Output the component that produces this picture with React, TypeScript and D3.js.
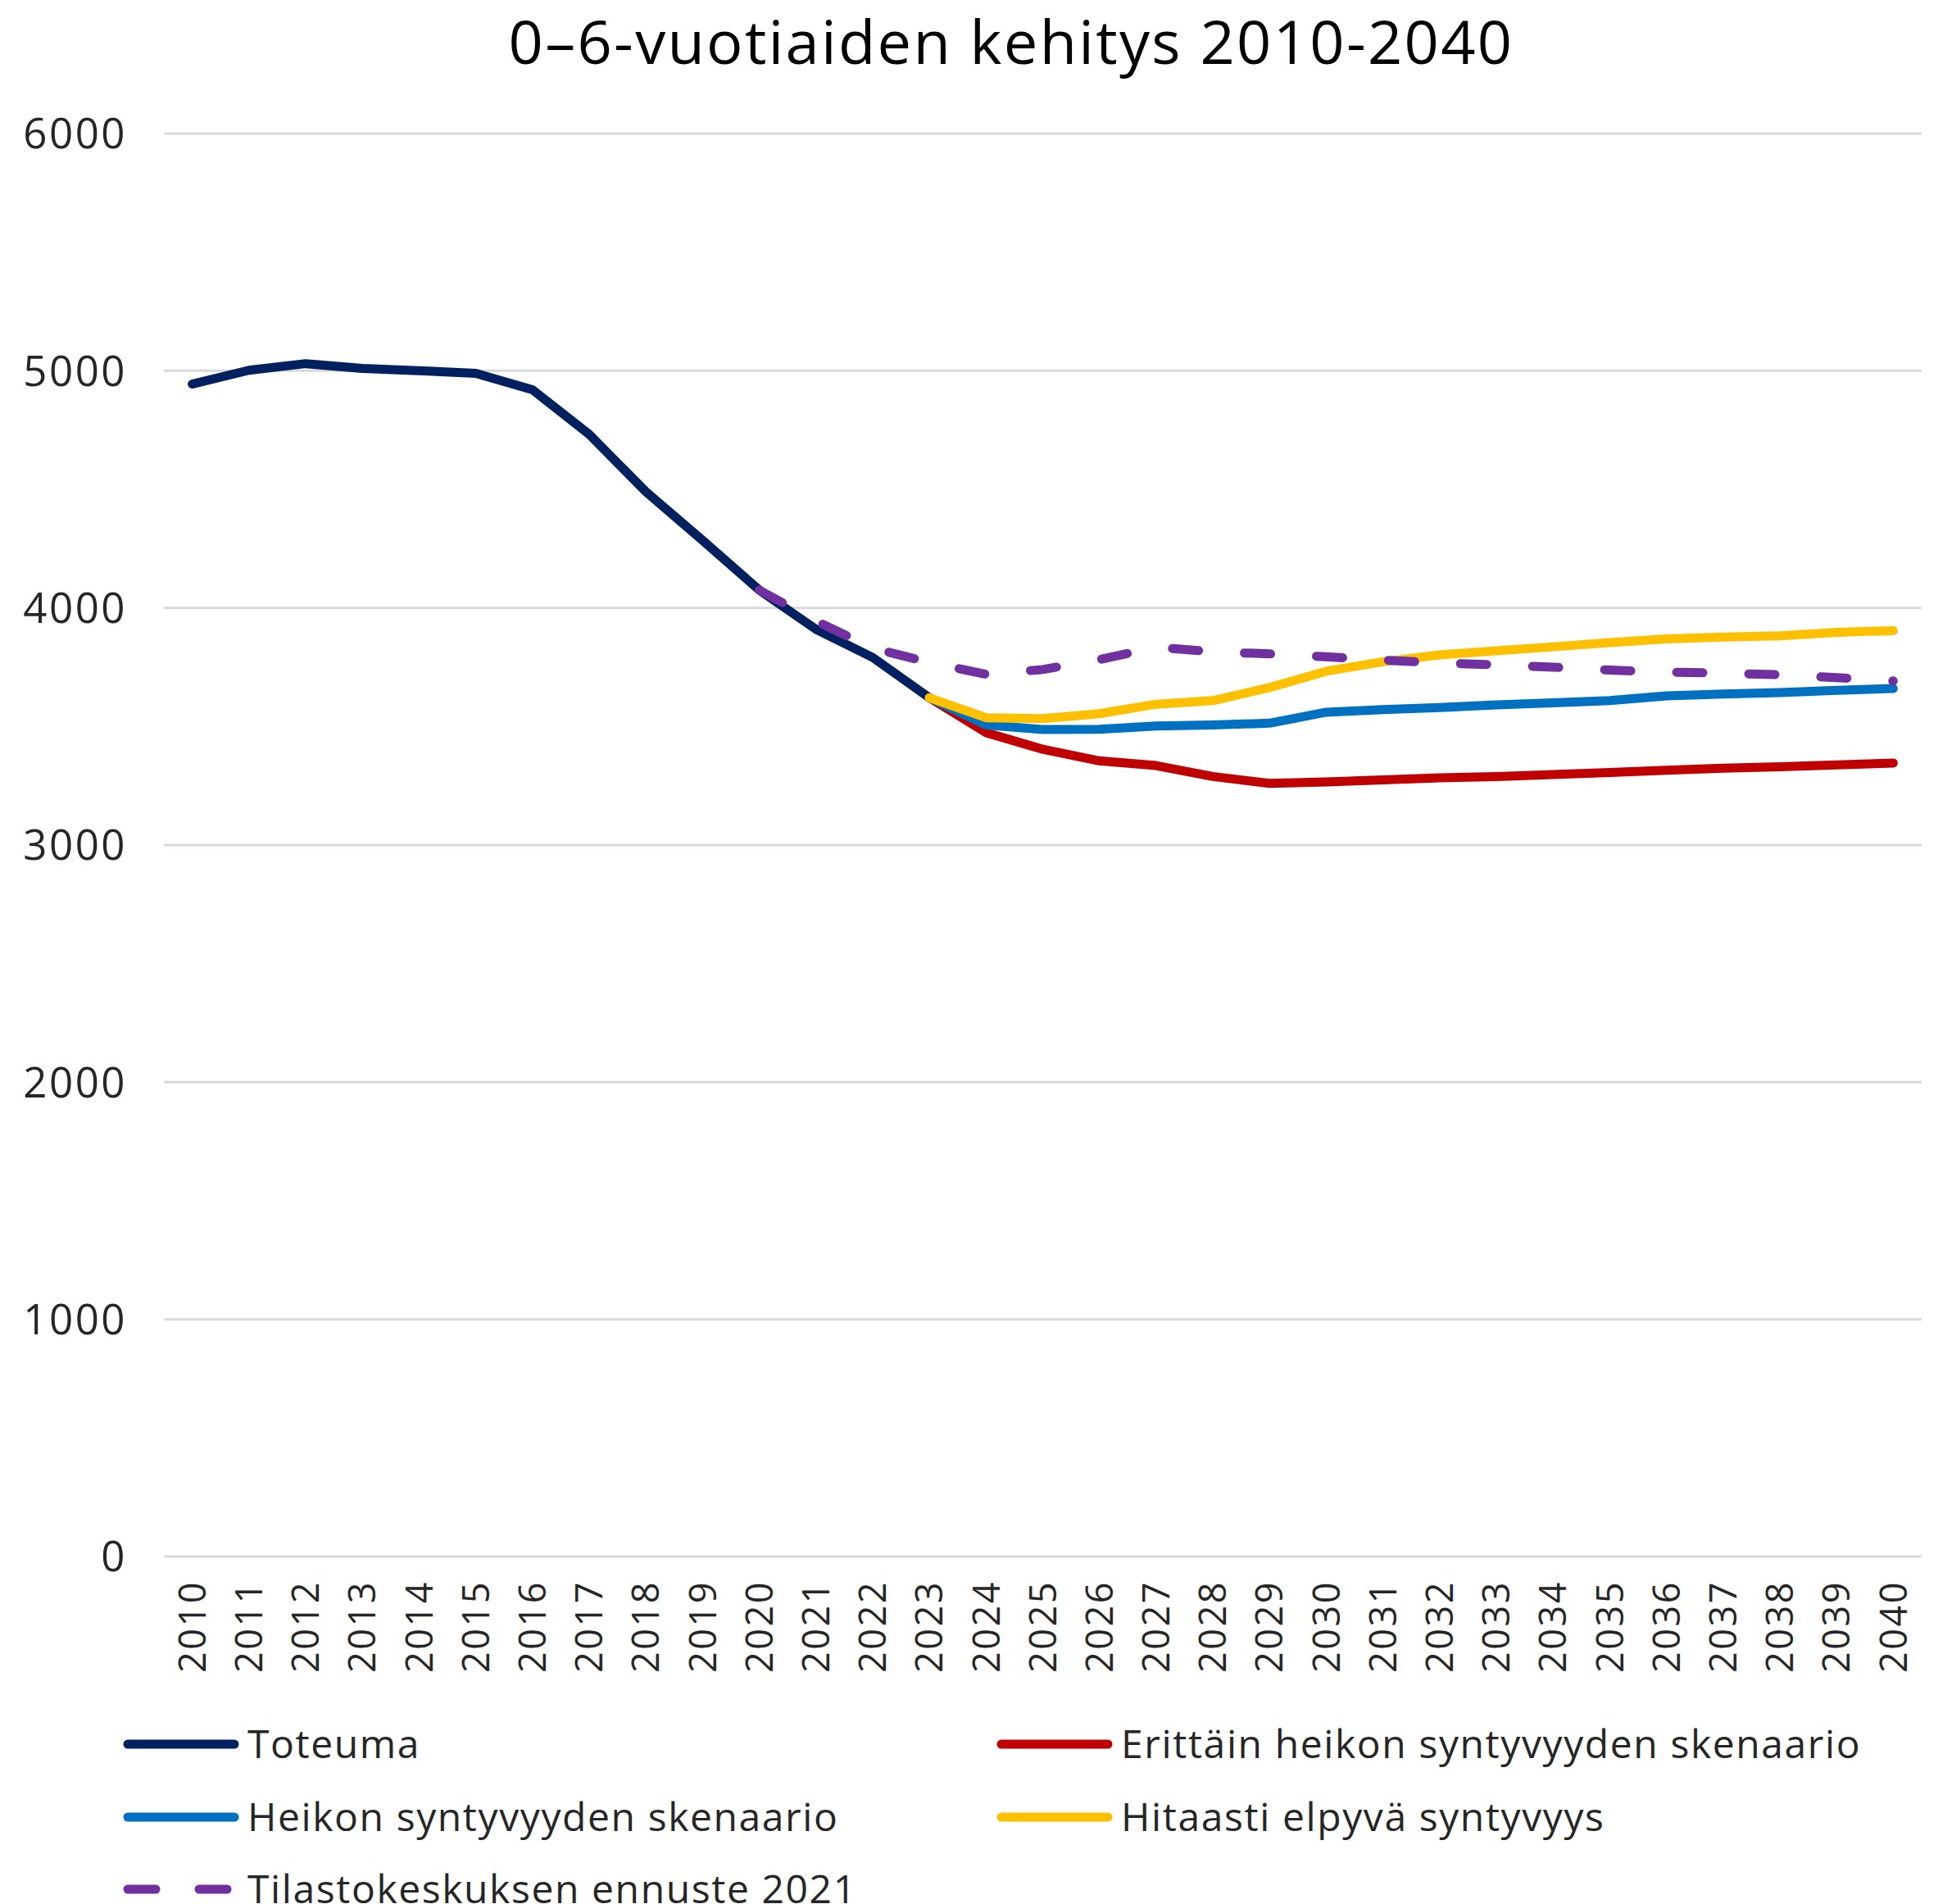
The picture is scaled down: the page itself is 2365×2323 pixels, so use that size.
import React from 'react';
import * as d3 from 'd3';

const years = d3.range(2010, 2041).map(String);
const yTicks = [0, 1000, 2000, 3000, 4000, 5000, 6000];

// Toteuma 2010-2023
const toteuma = [4944, 5002, 5030, 5010, 5000, 4989, 4920, 4732, 4490, 4285, 4075, 3910, 3791, 3621];
// Skenaariot 2023-2040
const erittainHeikko = [3621, 3474, 3404, 3355, 3335, 3289, 3260, 3266, 3275, 3283, 3289, 3297, 3306, 3315, 3324, 3330, 3338, 3346];
const heikko = [3621, 3506, 3487, 3488, 3502, 3506, 3514, 3560, 3571, 3580, 3591, 3600, 3609, 3629, 3637, 3643, 3652, 3660];
const hitaasti = [3621, 3537, 3533, 3554, 3594, 3609, 3664, 3733, 3773, 3802, 3819, 3836, 3854, 3869, 3877, 3882, 3897, 3904];
// Tilastokeskuksen ennuste 2021, 2020-2040
const tilastokeskus = [4075, 3945, 3830, 3770, 3720, 3740, 3782, 3834, 3815, 3806, 3794, 3780, 3768, 3760, 3750, 3738, 3729, 3725, 3718, 3706, 3692];

const series = [
  { name: 'Toteuma', start: 2010, values: toteuma, color: '#002060', dash: null },
  { name: 'Erittäin heikon syntyvyyden skenaario', start: 2023, values: erittainHeikko, color: '#C00000', dash: null },
  { name: 'Heikon syntyvyyden skenaario', start: 2023, values: heikko, color: '#0070C0', dash: null },
  { name: 'Hitaasti elpyvä syntyvyys', start: 2023, values: hitaasti, color: '#FFC000', dash: null },
  { name: 'Tilastokeskuksen ennuste 2021', start: 2020, values: tilastokeskus, color: '#7030A0', dash: '32 56' },
];

export default function App() {
  const width = 2365;
  const height = 2323;
  const margin = { top: 163, right: 20, bottom: 424, left: 200 };
  const font = '"Open Sans", sans-serif';

  const x = d3.scaleBand().domain(years).range([margin.left, width - margin.right]);
  const y = d3.scaleLinear().domain([0, 6000]).range([height - margin.bottom, margin.top]);
  const cx = (yr: number) => (x(String(yr)) as number) + x.bandwidth() / 2;

  const line = d3.line<[number, number]>().x(d => cx(d[0])).y(d => y(d[1]));

  const legendPos = [
    { x: 156, y: 2128 },
    { x: 1222, y: 2128 },
    { x: 156, y: 2217 },
    { x: 1222, y: 2217 },
    { x: 156, y: 2305 },
  ];

  return (
    <svg width={width} height={height} style={{ position: 'absolute', left: 0, top: 0, background: '#fff' }} fontFamily={font}>
      <text x={1234} y={78} textAnchor="middle" fontSize={74} letterSpacing={2.3} fill="#000">0–6-vuotiaiden kehitys 2010-2040</text>

      {yTicks.map(t => (
        <g key={t}>
          <line x1={margin.left} x2={width - margin.right} y1={y(t)} y2={y(t)} stroke="#D9D9D9" strokeWidth={3} />
          <text x={155} y={y(t)} dy="0.36em" textAnchor="end" fontSize={51} letterSpacing={2.5} fill="#262626">{t}</text>
        </g>
      ))}

      {years.map(yr => (
        <text key={yr} transform={`translate(${cx(+yr)},1928) rotate(-90)`} dy="0.36em" textAnchor="end" fontSize={45} letterSpacing={2.5} fill="#262626">{yr}</text>
      ))}

      {series.map(s => (
        <path
          key={s.name}
          d={line(s.values.map((v, i) => [s.start + i, v] as [number, number])) as string}
          fill="none"
          stroke={s.color}
          strokeWidth={11}
          strokeLinejoin="round"
          strokeLinecap="round"
          strokeDasharray={s.dash ?? undefined}
        />
      ))}

      {series.map((s, i) => {
        const p = legendPos[i];
        return (
          <g key={s.name}>
            <line x1={p.x} x2={p.x + 130} y1={p.y} y2={p.y} stroke={s.color} strokeWidth={11} strokeLinecap="round"
              strokeDasharray={s.dash ? '34 53' : undefined} />
            <text x={p.x + 146} y={p.y} dy="0.36em" fontSize={48} letterSpacing={1.6} fill="#262626">{s.name}</text>
          </g>
        );
      })}
    </svg>
  );
}
